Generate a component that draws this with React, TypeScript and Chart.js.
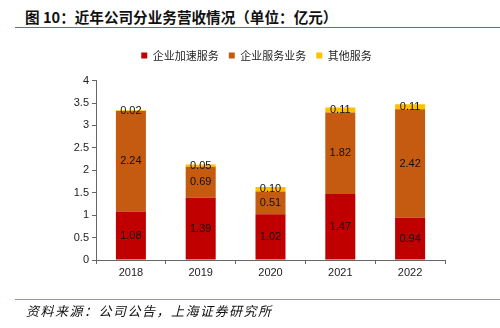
import React, { useEffect, useRef } from "react";
import { Chart, registerables } from "chart.js";

Chart.register(...registerables);

const categories = ["2018", "2019", "2020", "2021", "2022"];
const accelValues = [1.08, 1.39, 1.02, 1.47, 0.94];
const serviceValues = [2.24, 0.69, 0.51, 1.82, 2.42];
const otherValues = [0.02, 0.05, 0.1, 0.11, 0.11];
const seriesNames = ["企业加速服务", "企业服务业务", "其他服务"];
const yTicks = [0, 0.5, 1, 1.5, 2, 2.5, 3, 3.5, 4];

const valueLabels = {
  id: "valueLabels",
  afterDatasetsDraw(chart: any) {
    const ctx = chart.ctx;
    ctx.save();
    ctx.font = "11px 'Liberation Sans', Arial, sans-serif";
    ctx.fillStyle = "#111";
    ctx.textAlign = "center";
    ctx.textBaseline = "middle";
    chart.data.datasets.forEach((ds: any, di: number) => {
      const meta = chart.getDatasetMeta(di);
      meta.data.forEach((el: any, i: number) => {
        const v = ds.data[i];
        const y = (el.y + el.base) / 2;
        ctx.fillText(v.toFixed(2), el.x, y);
      });
    });
    ctx.restore();
  },
};

export default function App() {
  const ref = useRef<HTMLCanvasElement>(null);
  useEffect(() => {
    document.body.style.margin = "0";
    const chart = new Chart(ref.current!, {
      type: "bar",
      data: {
        labels: categories,
        datasets: [
          { label: seriesNames[0], data: accelValues, backgroundColor: "#C00000", barPercentage: 0.43, categoryPercentage: 1 },
          { label: seriesNames[1], data: serviceValues, backgroundColor: "#C55A11", barPercentage: 0.43, categoryPercentage: 1 },
          { label: seriesNames[2], data: otherValues, backgroundColor: "#FFC000", barPercentage: 0.43, categoryPercentage: 1 },
        ],
      },
      options: {
        animation: false,
        responsive: false,
        maintainAspectRatio: false,
        layout: { padding: { top: 40, right: 55, bottom: 0, left: 68 } },
        plugins: {
          title: { display: true, text: "", weight: 500, padding: 0, font: { size: 8 } },
          tooltip: { enabled: false },
          legend: {
            display: true,
            position: "top",
            labels: {
              boxWidth: 6,
              boxHeight: 6,
              padding: 10,
              color: "#222",
              font: { size: 11, family: "'Noto Sans CJK SC', sans-serif" },
            },
          },
        },
        scales: {
          x: {
            stacked: true,
            grid: { display: true, drawOnChartArea: false, offset: true, tickLength: 4, color: "#666" },
            border: { color: "#666" },
            ticks: { color: "#222", font: { size: 11, family: "'Liberation Sans', Arial, sans-serif" }, padding: 2 },
            afterFit: (s: any) => { s.height = 68; },
          },
          y: {
            stacked: true,
            min: 0,
            max: 4,
            afterBuildTicks: (s: any) => { s.ticks = yTicks.map((v) => ({ value: v })); },
            grid: { display: true, drawOnChartArea: false, tickLength: 4, color: "#666" },
            border: { color: "#666" },
            ticks: { color: "#222", font: { size: 11, family: "'Liberation Sans', Arial, sans-serif" }, padding: 3, callback: (v: any) => String(v) },
            afterFit: (s: any) => { s.width = 28; },
          },
        },
      },
      plugins: [valueLabels],
    });
    return () => chart.destroy();
  }, []);

  return (
    <div style={{ position: "relative", width: 500, height: 328, background: "#fff", overflow: "hidden" }}>
      <div style={{ position: "absolute", left: 25, top: 7, fontFamily: "'Noto Sans CJK SC', sans-serif", fontWeight: 700, fontSize: 14.6, color: "#111", lineHeight: "20px", whiteSpace: "nowrap" }}>
        图 10：近年公司分业务营收情况（单位：亿元）
      </div>
      <div style={{ position: "absolute", left: 15, top: 27, width: 485, height: 1, background: "#E04040" }} />
      <canvas ref={ref} width={500} height={328} style={{ position: "absolute", left: 0, top: 0, width: 500, height: 328 }} />
      <div style={{ position: "absolute", left: 15, top: 299, width: 485, height: 1, background: "#F07070" }} />
      <div style={{ position: "absolute", left: 26, top: 302, fontFamily: "'Noto Sans CJK SC', sans-serif", fontStyle: "italic", fontSize: 13, letterSpacing: 1.5, color: "#111", lineHeight: "18px", whiteSpace: "nowrap" }}>
        资料来源：公司公告，上海证券研究所
      </div>
    </div>
  );
}
